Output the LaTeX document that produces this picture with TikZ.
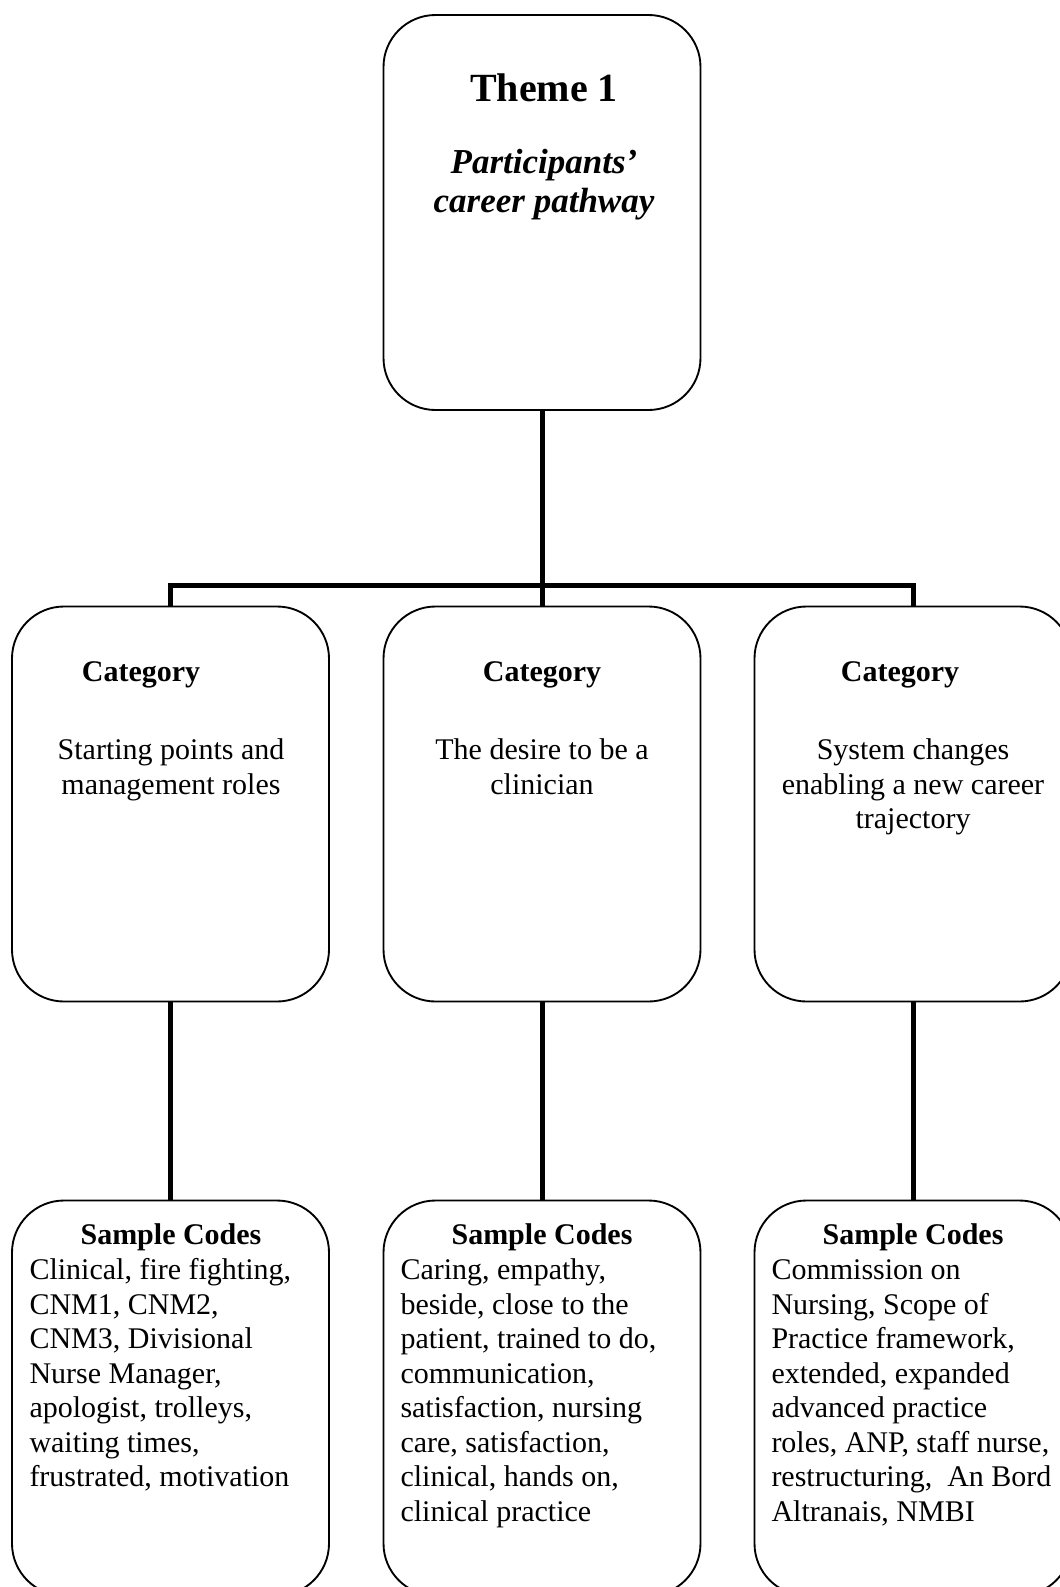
\documentclass[tikz,border=0pt]{standalone}
\usepackage{fontspec}
\setmainfont{Liberation Serif}
\begin{document}
\begin{tikzpicture}[x=0.4pt,y=-0.4pt,
  box/.style={draw,line width=0.75pt,rounded corners=20.8pt,minimum width=126.8pt,minimum height=158pt,inner sep=0pt},
  link/.style={line width=2pt},
  head/.style={font=\fontsize{12}{13.8}\selectfont\bfseries,inner sep=0pt,anchor=base},
  body/.style={align=center,font=\fontsize{12}{13.8}\selectfont,inner sep=0pt,anchor=north},
  codes/.style={align=left,font=\fontsize{12}{13.8}\selectfont,inner sep=0pt,anchor=north west}]

\useasboundingbox (0,0) rectangle (1060,1587);

% Boxes
\node[box] (theme) at (542,212.5) {};
\node[box] (catA) at (170.5,804) {};
\node[box] (catB) at (542,804) {};
\node[box] (catC) at (913,804) {};
\node[box] (codeA) at (170.5,1398) {};
\node[box] (codeB) at (542,1398) {};
\node[box] (codeC) at (913,1398) {};

% Connectors
\coordinate (bar) at (542,585);
\draw[link] (theme.south) -- (bar);
\draw[link] (catA.north) |- (bar) -| (catC.north);
\draw[link] (bar) -- (catB.north);
\draw[link] (catA.south) -- (codeA.north);
\draw[link] (catB.south) -- (codeB.north);
\draw[link] (catC.south) -- (codeC.north);

% Theme
\node[font=\fontsize{16}{18}\selectfont\bfseries,inner sep=0pt,anchor=base] (title) at (544,101) {Theme 1};
\node[align=center,font=\fontsize{14}{15.5}\selectfont\bfseries\itshape,inner sep=0pt,anchor=north] (subtitle) at (544,146) {\strut Participants'\\career pathway};

% Categories
\node[head] (headA) at (141,681) {Category};
\node[head] (headB) at (542,681) {Category};
\node[head] (headC) at (900,681) {Category};
\node[body] (textA) at (171,735) {\strut Starting points and\\management roles};
\node[body] (textB) at (542,735) {\strut The desire to be a\\clinician};
\node[body] (textC) at (913,735) {\strut System changes\\enabling a new career\\trajectory};

% Sample codes
\node[head] (sampleA) at (171,1244) {Sample Codes};
\node[head] (sampleB) at (542,1244) {Sample Codes};
\node[head] (sampleC) at (913,1244) {Sample Codes};
\node[codes] (listA) at (29,1255) {\strut Clinical, fire fighting,\\CNM1, CNM2,\\CNM3, Divisional\\Nurse Manager,\\apologist, trolleys,\\waiting times,\\frustrated, motivation};
\node[codes] (listB) at (400,1255) {\strut Caring, empathy,\\beside, close to the\\patient, trained to do,\\communication,\\satisfaction, nursing\\care, satisfaction,\\clinical, hands on,\\clinical practice};
\node[codes] (listC) at (771,1255) {\strut Commission on\\Nursing, Scope of\\Practice framework,\\extended, expanded\\advanced practice\\roles, ANP, staff nurse,\\restructuring,\ \ An Bord\\Altranais, NMBI};

\end{tikzpicture}
\end{document}
